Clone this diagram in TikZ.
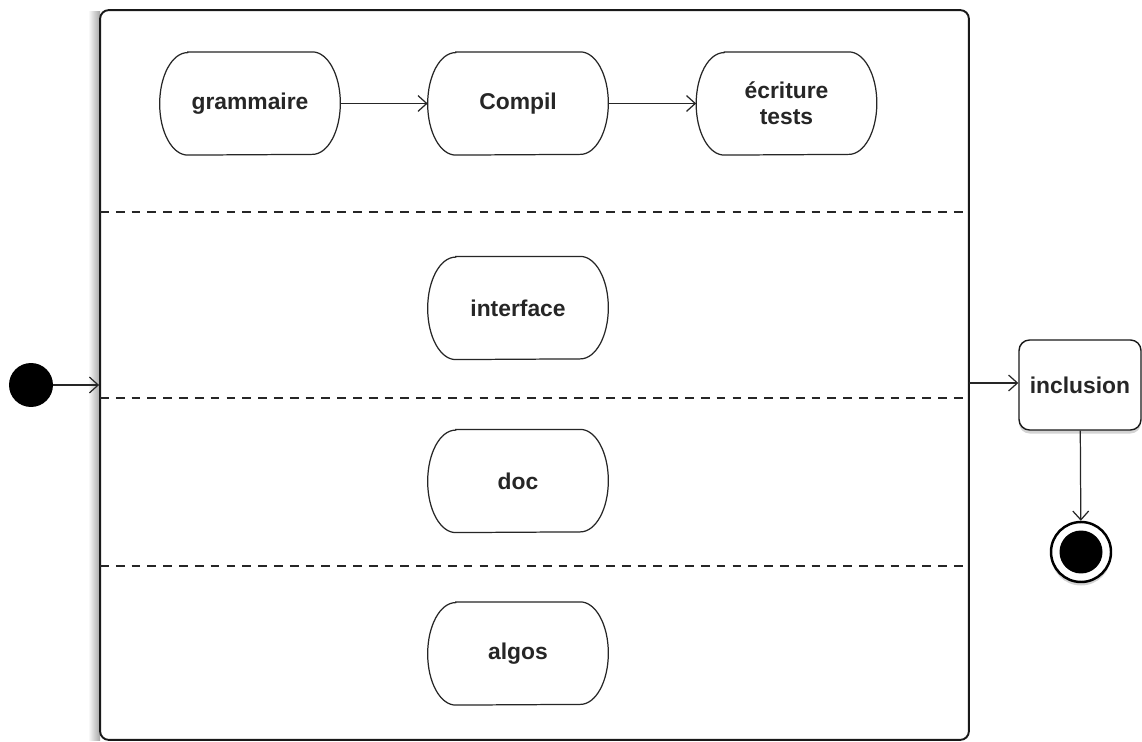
\documentclass[tikz,border=0pt]{standalone}
\usepackage{fontspec}
\setmainfont{Liberation Sans}
\usetikzlibrary{arrows.meta,shadows}
\begin{document}
\begin{tikzpicture}[x=0.02cm,y=-0.02cm,
  act/.style={minimum width=3.6cm, minimum height=2.05cm, align=center, font=\bfseries\fontsize{13}{15}\selectfont, text=black!85, inner sep=0pt},
  actline/.style={draw=black!85, line width=0.7pt},
  flow/.style={draw=black!85, line width=0.7pt, -{Straight Barb[length=5pt,width=9pt]}},
  lane/.style={draw=black!85, line width=0.8pt, dash pattern=on 5pt off 4pt}
]
\newcommand{\stadbox}[1]{\draw[actline] ([xshift=0.56cm]#1.north west) -- ([xshift=-0.56cm]#1.north east) arc[start angle=90,end angle=-90,x radius=0.56cm,y radius=1.025cm] -- ([xshift=0.56cm]#1.south west) arc[start angle=270,end angle=90,x radius=0.56cm,y radius=1.025cm] -- cycle;}
\useasboundingbox (0,0) rectangle (1142,742);
% shadow of big box
\shade[left color=white, right color=black!35] (88,12) rectangle (100,740);
\node[draw=black!90, line width=1.1pt, rounded corners=5pt, fill=white, minimum width=17.38cm, minimum height=14.6cm, inner sep=0pt] (box) at (534.5,375) {};
% swimlane separators
\coordinate (l1a) at (100,212); \coordinate (l1b) at (969,212);
\coordinate (l2a) at (100,398); \coordinate (l2b) at (969,398);
\coordinate (l3a) at (100,566); \coordinate (l3b) at (969,566);
\draw[lane] (l1a) -- (l1b);
\draw[lane] (l2a) -- (l2b);
\draw[lane] (l3a) -- (l3b);
% activities
\node[act] (gram) at (250,103.5) {grammaire};
\node[act] (comp) at (518,103.5) {Compil};
\node[act] (ecr) at (786.5,103.5) {écriture\\tests};
\node[act] (inter) at (518,308) {interface};
\node[act] (doc) at (518,481) {doc};
\node[act] (algo) at (518,653.5) {algos};
\stadbox{gram}\stadbox{comp}\stadbox{ecr}\stadbox{inter}\stadbox{doc}\stadbox{algo}
\draw[flow] (gram) -- (comp);
\draw[flow] (comp) -- (ecr);
% start
\node[circle, fill=black, minimum size=0.88cm, inner sep=0pt] (start) at (31,385) {};
\draw[flow] (start) -- (start -| box.west);
% inclusion
\node[draw=black!90, line width=0.8pt, rounded corners=6pt, fill=white, minimum width=2.44cm, minimum height=1.8cm, font=\bfseries\fontsize{13}{15}\selectfont, text=black!85, drop shadow={shadow xshift=0pt, shadow yshift=-2pt, opacity=0.35}] (incl) at (1080,385) {inclusion};
\coordinate (bxe) at (969,383);
\draw[flow] (bxe) -- (bxe -| incl.west);
% end
\node[circle, draw=black, line width=1.4pt, fill=white, minimum size=1.2cm, inner sep=0pt, drop shadow={shadow xshift=0pt, shadow yshift=-2pt, opacity=0.35}] (end) at (1081,552) {};
\node[circle, fill=black, minimum size=0.86cm, inner sep=0pt] (endin) at (end) {};
\draw[flow] (incl) -- (end);
\end{tikzpicture}
\end{document}
